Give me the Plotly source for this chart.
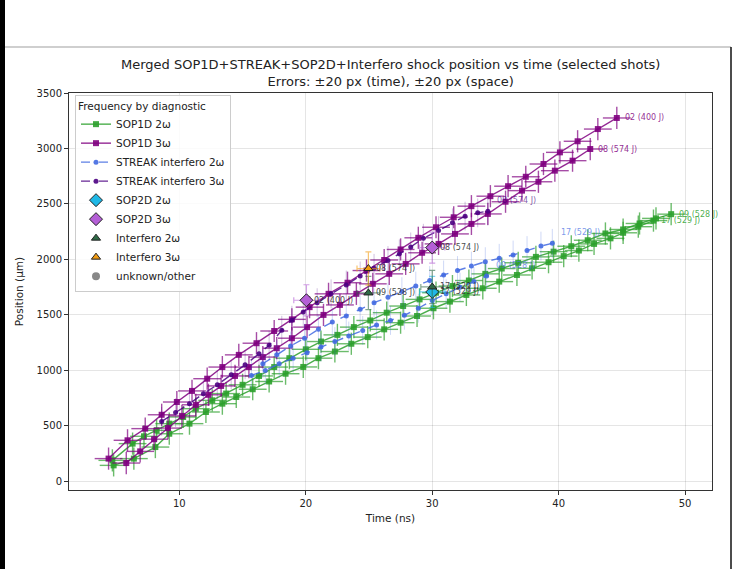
import plotly.graph_objects as go

# ---------------- data ----------------
# SOP1D 3w
sop1d_3w_02_t = [4.4, 5.9, 7.3, 8.6, 9.8, 11.0, 12.2, 13.4, 14.7, 16.1, 17.5, 18.9, 20.3, 21.8, 23.3, 24.8,
                 26.2, 27.5, 28.9, 30.3, 31.7, 33.1, 34.6, 36.0, 37.4, 38.8, 40.1, 41.5, 43.1, 44.6]
sop1d_3w_02_y = [205, 370, 475, 600, 715, 815, 925, 1030, 1140, 1245, 1355, 1460, 1570, 1690, 1790, 1900,
                 1995, 2090, 2195, 2290, 2380, 2480, 2570, 2660, 2745, 2860, 2965, 3065, 3175, 3275]
sop1d_3w_08_t = [5.8, 6.9, 8.0, 9.1, 10.2, 11.3, 12.3, 13.3, 14.4, 15.5, 16.6, 17.7, 18.9, 20.1, 21.4, 22.7,
                 24.0, 25.3, 26.6, 27.9, 29.2, 30.5, 31.8, 33.1, 34.4, 35.8, 37.1, 38.4, 39.7, 41.1, 42.5]
sop1d_3w_08_y = [165, 270, 380, 480, 590, 690, 780, 860, 950, 1030, 1120, 1200, 1290, 1390, 1500, 1590,
                 1690, 1780, 1870, 1960, 2060, 2140, 2230, 2320, 2410, 2520, 2620, 2700, 2800, 2890, 2995]
# SOP1D 2w
sop1d_2w_09_t = [4.7, 6.3, 7.2, 8.2, 9.2, 10.3, 11.3, 12.6, 13.7, 15.0, 16.3, 17.5, 18.7, 20.0, 21.2, 22.5,
                 23.8, 25.1, 26.4, 27.7, 29.0, 30.3, 31.6, 32.9, 34.2, 35.5, 36.8, 38.2, 39.6, 41.0, 42.3,
                 43.7, 45.1, 46.4, 47.7, 48.9]
sop1d_2w_09_y = [189, 340, 406, 460, 520, 580, 655, 730, 791, 870, 950, 1030, 1110, 1190, 1260, 1320,
                 1390, 1450, 1520, 1580, 1640, 1700, 1760, 1810, 1870, 1918, 1970, 2023, 2070, 2119, 2173,
                 2234, 2270, 2324, 2370, 2408]
sop1d_2w_17_t = [4.8, 6.4, 8.1, 9.2, 10.8, 12.1, 13.4, 14.5, 15.8, 17.1, 18.4, 19.8, 21.0, 22.3, 23.6, 24.9,
                 26.2, 27.5, 28.8, 30.1, 31.4, 32.7, 34.0, 35.3, 36.7, 37.9, 39.2, 40.4, 41.6, 42.8, 44.1,
                 45.1, 46.3, 47.5]
sop1d_2w_17_y = [144, 205, 309, 429, 520, 625, 700, 760, 830, 900, 970, 1031, 1110, 1170, 1240, 1300,
                 1370, 1430, 1490, 1560, 1620, 1680, 1740, 1800, 1860, 1920, 1975, 2030, 2080, 2140, 2190,
                 2240, 2295, 2350]
# STREAK interfero
streak_2w_17_t = [16.6, 17.7, 18.8, 19.9, 21.0, 22.1, 23.2, 24.3, 25.4, 26.5, 27.6, 28.7, 29.8, 30.9, 32.0,
                  33.1, 34.2, 35.3, 36.4, 37.5, 38.6, 39.5]
streak_2w_17_y = [1060, 1140, 1220, 1290, 1370, 1436, 1490, 1550, 1610, 1660, 1710, 1760, 1810, 1860, 1900,
                  1940, 1980, 2010, 2040, 2080, 2120, 2145]
streak_2w_09_t = [15.7, 16.8, 17.9, 19.0, 20.1, 21.2, 22.3, 23.4, 24.5, 25.6, 26.7, 27.8, 28.9, 30.0, 31.1,
                  32.2, 33.3, 34.3]
streak_2w_09_y = [955, 1000, 1060, 1110, 1160, 1210, 1260, 1310, 1360, 1410, 1450, 1497, 1560, 1630, 1690,
                  1750, 1800, 1850]
streak_3w_08_t = [8.6, 9.7, 10.8, 11.9, 13.0, 14.1, 15.2, 16.3, 17.1, 18.1, 18.9, 19.8, 20.9, 22.0, 23.2,
                  24.3, 25.4, 26.5, 27.4, 28.3, 29.3, 30.5, 31.6, 32.6, 33.6, 34.4]
streak_3w_08_y = [540, 620, 700, 790, 870, 960, 1050, 1150, 1226, 1362, 1452, 1527, 1610, 1690, 1770,
                  1851, 1920, 1990, 2050, 2113, 2191, 2260, 2330, 2390, 2420, 2435]
# SOP2D
sop2d_2w_t = [30.0]
sop2d_2w_y = [1707]
sop2d_2w_lab = ["17 (529 J)"]
sop2d_3w_t = [20.05, 30.0]
sop2d_3w_y = [1632, 2107]
sop2d_3w_lab = ["02 (400 J)", "08 (574 J)"]
# Interfero
interf_2w_t = [24.95, 30.0]
interf_2w_y = [1698, 1752]
interf_2w_lab = ["09 (528 J)", "17 (529 J)"]
interf_3w_t = [24.95]
interf_3w_y = [1918]
interf_3w_lab = ["08 (574 J)"]

# error magnitudes
err_t_sop1d, err_y_sop1d = 1.1, 100
err_y_streak = 130
err_t_sop2d, err_y_sop2d = 1.0, 140
err_t_interf, err_y_interf = 0.9, 150

TITLE_1 = "Merged SOP1D+STREAK+SOP2D+Interfero shock position vs time (selected shots)"
TITLE_2 = "Errors: ±20 px (time), ±20 px (space)"

# ---------------- styles ----------------
C_SOP1D_2W = "#2ca02c"
C_SOP1D_3W = "#800080"
C_STREAK_2W = "#4169e1"
C_STREAK_3W = "#4b0082"
C_SOP2D_2W = "#1fb8e6"
C_SOP2D_3W = "#b45fd6"
C_INT_2W = "#2e6b47"
C_INT_3W = "#f39c12"
C_UNK = "#888888"


def rgba(hexc, a):
    h = hexc.lstrip("#")
    r, g, b = int(h[0:2], 16), int(h[2:4], 16), int(h[4:6], 16)
    return f"rgba({r},{g},{b},{a})"


fig = go.Figure()


def sop1d(t, y, color, name, show, label):
    fig.add_trace(go.Scatter(
        x=t, y=y, mode="lines+markers", name=name, legendgroup=name, showlegend=show,
        line=dict(color=rgba(color, 0.85), width=1.4),
        marker=dict(symbol="square", size=6, color=rgba(color, 0.9)),
        error_x=dict(type="constant", value=err_t_sop1d, color=rgba(color, 0.7), thickness=1.4, width=0),
        error_y=dict(type="constant", value=err_y_sop1d, color=rgba(color, 0.7), thickness=1.4, width=0),
    ))
    fig.add_annotation(x=t[-1], y=y[-1], text=label, showarrow=False, xanchor="left", yanchor="middle",
                       xshift=6, font=dict(size=8, color=rgba(color, 0.85)))


def streak(t, y, color, name, show, label):
    fig.add_trace(go.Scatter(
        x=t, y=y, mode="lines+markers", name=name, legendgroup=name, showlegend=show,
        line=dict(color=rgba(color, 0.85), width=1.4, dash="dash"),
        marker=dict(symbol="circle", size=5, color=rgba(color, 0.9)),
        error_y=dict(type="constant", value=err_y_streak, color=rgba(color, 0.25), thickness=1.0, width=0),
    ))
    fig.add_annotation(x=t[-1], y=y[-1], text=label, showarrow=False, xanchor="left", yanchor="middle",
                       xshift=7, yshift=11, font=dict(size=8, color=rgba(color, 0.7)))


sop1d(sop1d_2w_09_t, sop1d_2w_09_y, C_SOP1D_2W, "SOP1D 2ω", True, "09 (528 J)")
sop1d(sop1d_2w_17_t, sop1d_2w_17_y, C_SOP1D_2W, "SOP1D 2ω", False, "17 (529 J)")
sop1d(sop1d_3w_02_t, sop1d_3w_02_y, C_SOP1D_3W, "SOP1D 3ω", True, "02 (400 J)")
sop1d(sop1d_3w_08_t, sop1d_3w_08_y, C_SOP1D_3W, "SOP1D 3ω", False, "08 (574 J)")
streak(streak_2w_17_t, streak_2w_17_y, C_STREAK_2W, "STREAK interfero 2ω", True, "17 (529 J)")
streak(streak_2w_09_t, streak_2w_09_y, C_STREAK_2W, "STREAK interfero 2ω", False, "09 (528 J)")
streak(streak_3w_08_t, streak_3w_08_y, C_STREAK_3W, "STREAK interfero 3ω", True, "08 (574 J)")


def points(t, y, labels, color, symbol, size, name, et, ey):
    fig.add_trace(go.Scatter(
        x=t, y=y, mode="markers", name=name, legendgroup=name,
        marker=dict(symbol=symbol, size=size, color=color, line=dict(color="#222222", width=1)),
        error_x=dict(type="constant", value=et, color=rgba(color, 0.6), thickness=1.2, width=3),
        error_y=dict(type="constant", value=ey, color=rgba(color, 0.6), thickness=1.2, width=3),
    ))
    for xi, yi, lab in zip(t, y, labels):
        fig.add_annotation(x=xi, y=yi, text=lab, showarrow=False, xanchor="left", yanchor="middle",
                           xshift=6, font=dict(size=8, color="rgba(40,40,40,0.85)"))


points(sop2d_2w_t, sop2d_2w_y, sop2d_2w_lab, C_SOP2D_2W, "diamond", 10, "SOP2D 2ω", err_t_sop2d, err_y_sop2d)
points(sop2d_3w_t, sop2d_3w_y, sop2d_3w_lab, C_SOP2D_3W, "diamond", 10, "SOP2D 3ω", err_t_sop2d, err_y_sop2d)
points(interf_2w_t, interf_2w_y, interf_2w_lab, C_INT_2W, "triangle-up", 8, "Interfero 2ω", err_t_interf, err_y_interf)
points(interf_3w_t, interf_3w_y, interf_3w_lab, C_INT_3W, "triangle-up", 8, "Interfero 3ω", err_t_interf, err_y_interf)

fig.add_trace(go.Scatter(x=[None], y=[None], mode="markers", name="unknown/other",
                         marker=dict(symbol="circle", size=8, color=C_UNK)))

# ---------------- layout ----------------
W, H = 734, 569
L, R, T, B = 69, 22, 93, 79
pw, ph = W - L - R, H - T - B


def px2paper_x(px):
    return (px - L) / pw


def px2paper_y(py):
    return (H - B - py) / ph


fig.update_layout(
    width=W, height=H,
    margin=dict(l=L, r=R, t=T, b=B),
    paper_bgcolor="white", plot_bgcolor="white",
    font=dict(family="DejaVu Sans", size=10, color="#222222"),
    xaxis=dict(range=[1.27, 52.13], tickvals=[10, 20, 30, 40, 50], showgrid=True,
               gridcolor="rgba(0,0,0,0.1)", gridwidth=1, zeroline=False,
               showline=True, linecolor="#333333", linewidth=1, mirror=True,
               ticks="outside", ticklen=4, tickcolor="#333333",
               title=dict(text="Time (ns)", font=dict(size=10.5), standoff=6),
               tickfont=dict(size=10)),
    yaxis=dict(range=[-78, 3500], tickvals=[0, 500, 1000, 1500, 2000, 2500, 3000, 3500], showgrid=True,
               gridcolor="rgba(0,0,0,0.1)", gridwidth=1, zeroline=False,
               showline=True, linecolor="#333333", linewidth=1, mirror=True,
               ticks="outside", ticklen=4, tickcolor="#333333",
               title=dict(text="Position (µm)", font=dict(size=10.5), standoff=10),
               tickfont=dict(size=10)),
    legend=dict(x=px2paper_x(75), y=px2paper_y(95), xanchor="left", yanchor="top",
                bgcolor="rgba(255,255,255,0.85)", bordercolor="#cccccc", borderwidth=1,
                title=dict(text="Frequency by diagnostic", font=dict(size=10.5), side="top"),
                font=dict(size=10.5), tracegroupgap=0, itemwidth=30),
    showlegend=True,
)

# two-line title
fig.add_annotation(xref="paper", yref="paper", x=px2paper_x(390), y=px2paper_y(73),
                   text=TITLE_1 + "<br>" + TITLE_2,
                   showarrow=False, xanchor="center", yanchor="middle", align="center",
                   font=dict(size=13, color="#222222"))

# outer frame of the screenshot
fig.add_shape(type="rect", xref="paper", yref="paper",
              x0=px2paper_x(0), x1=px2paper_x(5), y0=px2paper_y(H), y1=px2paper_y(0),
              fillcolor="black", line=dict(width=0), layer="above")
fig.add_shape(type="line", xref="paper", yref="paper",
              x0=px2paper_x(5), x1=px2paper_x(731), y0=px2paper_y(47), y1=px2paper_y(47),
              line=dict(color="#cfcfcf", width=2))
fig.add_shape(type="line", xref="paper", yref="paper",
              x0=px2paper_x(731), x1=px2paper_x(731), y0=px2paper_y(H), y1=px2paper_y(47),
              line=dict(color="#111111", width=1.5))

fig.write_html("out.html", config={"displayModeBar": False},
               post_script="document.body.style.margin='0px';document.body.style.overflow='hidden';")
